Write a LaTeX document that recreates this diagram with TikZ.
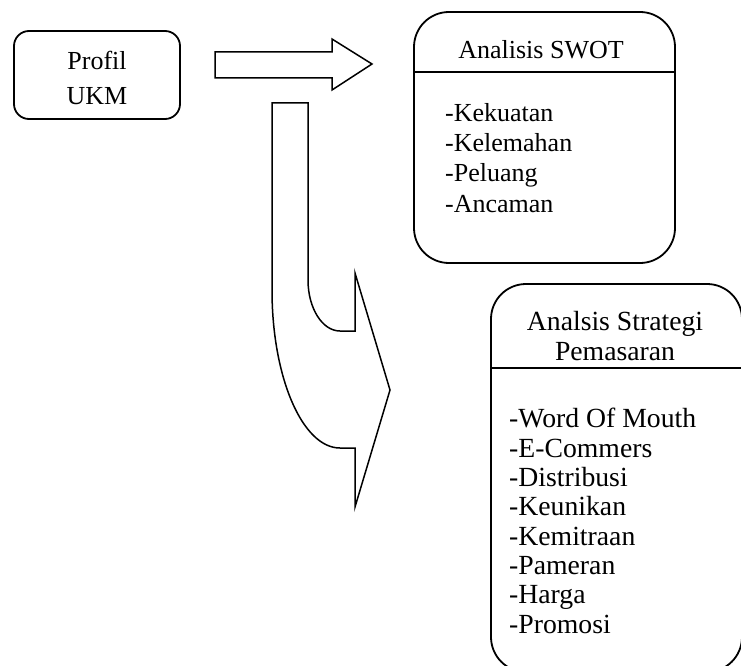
\documentclass[tikz,border=0pt]{standalone}
\usepackage{fontspec}
\setmainfont{Liberation Serif}
\usetikzlibrary{calc,positioning}

\begin{document}
\begin{tikzpicture}[x=1pt, y=1pt,
    box/.style={draw, line width=1.8pt, rounded corners=#1, inner sep=0pt},
    box/.default=15pt,
    txt/.style={font=\fontsize{26}{30}\selectfont, inner sep=0pt},
    blockarrow/.style={draw, line width=1.5pt, line join=miter}]
    % Fix the page to the size of the picture
    \useasboundingbox (0,0) rectangle (741,-666);

    % Profil UKM box (base of a multi-line node = its last line)
    \node[box, minimum width=166pt, minimum height=88pt] (profil) at (97,-75) {};
    \node[txt, anchor=base, align=center, font=\fontsize{26}{35}\selectfont]
        (profil-text) at (97,-105) {Profil\\UKM};

    % Analisis SWOT box
    \node[box=35pt, minimum width=261pt, minimum height=251pt] (swot) at (544.5,-137.5) {};
    \node[txt, anchor=base] (swot-title) at (541,-59) {Analisis SWOT};
    \coordinate (swot-l) at (swot.west |- 0,-72);
    \coordinate (swot-r) at (swot.east |- 0,-72);
    \draw[line width=1.8pt] (swot-l) -- (swot-r);
    \node[txt, anchor=base west, align=left, font=\fontsize{26}{30.3}\selectfont]
        (swot-list) at (445,-212) {-Kekuatan\\-Kelemahan\\-Peluang\\-Ancaman};

    % Analsis Strategi Pemasaran box (runs off the page)
    \node[box=35pt, minimum width=251pt, minimum height=388pt] (strategi) at (616.5,-478) {};
    \node[txt, anchor=base, align=center, font=\fontsize{27.7}{30}\selectfont]
        (strategi-title) at (615,-360) {Analsis Strategi\\Pemasaran};
    \coordinate (strategi-l) at (strategi.west |- 0,-368);
    \coordinate (strategi-r) at (strategi.east |- 0,-368);
    \draw[line width=1.8pt] (strategi-l) -- (strategi-r);
    \node[txt, anchor=base west, align=left, font=\fontsize{27.7}{29.3}\selectfont]
        (strategi-list) at (509,-633)
        {-Word Of Mouth\\-E-Commers\\-Distribusi\\-Keunikan\\-Kemitraan\\-Pameran\\-Harga\\-Promosi};

    % Straight block arrow towards SWOT
    \coordinate (a1) at (215,-52);
    \coordinate (a2) at (332,-52);
    \coordinate (a3) at (332,-39);
    \coordinate (tip) at (372,-64);
    \coordinate (a4) at (332,-90);
    \coordinate (a5) at (332,-78);
    \coordinate (a6) at (215,-78);
    \draw[blockarrow] (a1) -- (a2) -- (a3) -- (tip) -- (a4) -- (a5) -- (a6) -- cycle;

    % Bent block arrow towards strategi
    \coordinate (b1) at (272,-103);
    \coordinate (b2) at (308,-103);
    \coordinate (b3) at (308,-280);
    \coordinate (b4) at (355,-331);
    \coordinate (b5) at (355,-273);
    \coordinate (bend) at (390,-390);
    \coordinate (b6) at (355,-507);
    \coordinate (b7) at (355,-448);
    \coordinate (b8) at (340,-448);
    \draw[blockarrow] (b1) -- (b2) -- (b3)
        arc[start angle=180, end angle=270, x radius=32, y radius=51]
        -- (b4) -- (b5) -- (bend) -- (b6) -- (b7) -- (b8)
        arc[start angle=270, end angle=180, x radius=68, y radius=158]
        -- cycle;
\end{tikzpicture}
\end{document}
